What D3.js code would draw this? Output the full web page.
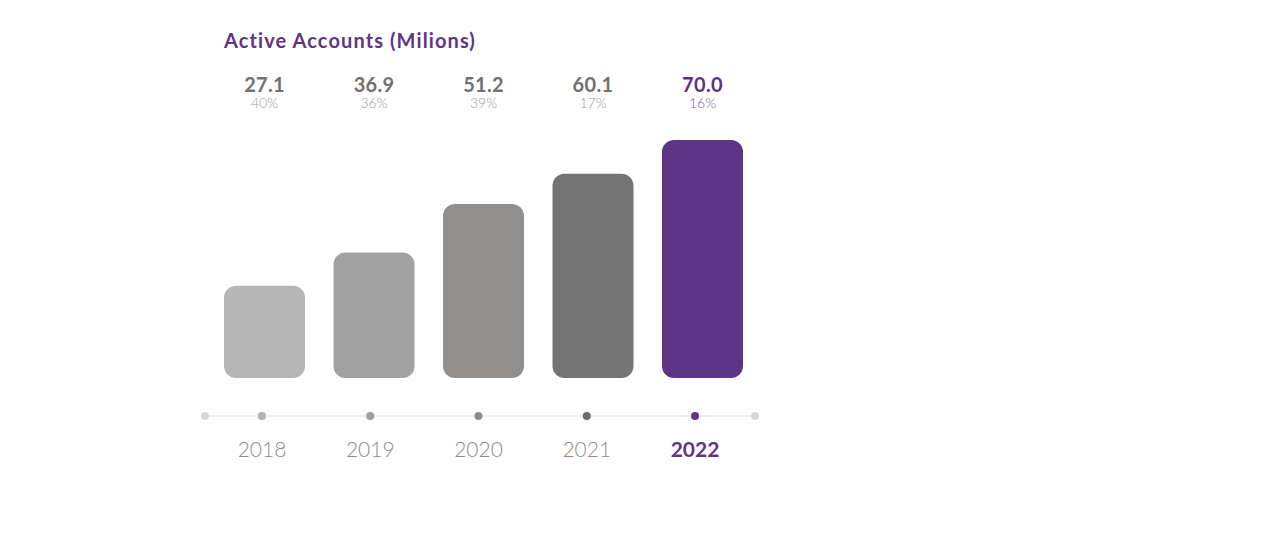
<!DOCTYPE html>
<html><head><meta charset="utf-8">
<script src="https://cdn.jsdelivr.net/npm/d3@7"></script>
<style>body{margin:0;background:#fff;} svg{display:block;font-family:Lato,"Open Sans",sans-serif;}</style>
</head><body>
<svg id="c" width="1280" height="553"></svg>
<script>
const years = ["2018","2019","2020","2021","2022"];
const values = [27.1, 36.9, 51.2, 60.1, 70.0];
const growth = ["40%","36%","39%","17%","16%"];
const barColors = ["#b6b6b6","#a3a2a2","#908f8e","#747474","#5e3486"];
const dotColors = ["#b0b0b0","#9e9e9e","#8d8d8d","#6b6b6b","#5e3486"];
const title = "Active Accounts (Milions)";

const svg = d3.select("#c");
const purple = "#5e3486";
const x = d3.scaleBand().domain(years).range([224, 743]).paddingInner(0.26).paddingOuter(0);
const y = d3.scaleLinear().domain([0, 70]).range([378, 140]);
const xa = d3.scalePoint().domain(years).range([262, 695]);

svg.append("text").attr("x", 224).attr("y", 48).attr("fill", purple)
  .attr("font-size", 20).attr("font-weight", 700).attr("letter-spacing", 1.1).text(title);

svg.selectAll("rect.bar").data(values).join("rect").attr("class","bar")
  .attr("x", (d,i)=>x(years[i])).attr("width", x.bandwidth())
  .attr("y", d=>y(d)).attr("height", d=>y(0)-y(d))
  .attr("rx", 12).attr("fill", (d,i)=>barColors[i]);

svg.selectAll("text.val").data(values).join("text").attr("class","val")
  .attr("x", (d,i)=>x(years[i])+x.bandwidth()/2).attr("y", 92)
  .attr("text-anchor","middle").attr("font-size", 20).attr("font-weight", 700)
  .attr("letter-spacing", 0.3)
  .attr("fill", (d,i)=> i===4 ? purple : "#707070").text(d=>d.toFixed(1));

svg.selectAll("text.pct").data(growth).join("text").attr("class","pct")
  .attr("x", (d,i)=>x(years[i])+x.bandwidth()/2).attr("y", 108)
  .attr("text-anchor","middle").attr("font-size", 14).attr("font-weight", 300)
  .attr("fill", (d,i)=> i===4 ? "#7e5aa3" : "#9a9a9a").text(d=>d);

// axis
svg.append("line").attr("x1",205).attr("x2",755).attr("y1",416).attr("y2",416)
  .attr("stroke","#dedede").attr("stroke-width",1.2);
svg.append("circle").attr("cx",205).attr("cy",416).attr("r",4).attr("fill","#d9d9d9");
svg.append("circle").attr("cx",755).attr("cy",416).attr("r",4).attr("fill","#d9d9d9");
svg.selectAll("circle.dot").data(years).join("circle").attr("class","dot")
  .attr("cx", d=>xa(d)).attr("cy",416).attr("r",4).attr("fill",(d,i)=>dotColors[i]);
svg.selectAll("text.yr").data(years).join("text").attr("class","yr")
  .attr("x", d=>xa(d)).attr("y", 457).attr("text-anchor","middle")
  .attr("font-size", 21).attr("font-weight",(d,i)=> i===4 ? 700 : 300)
  .attr("fill",(d,i)=> i===4 ? purple : "#8c8c8c").text(d=>d);
</script>
</body></html>
